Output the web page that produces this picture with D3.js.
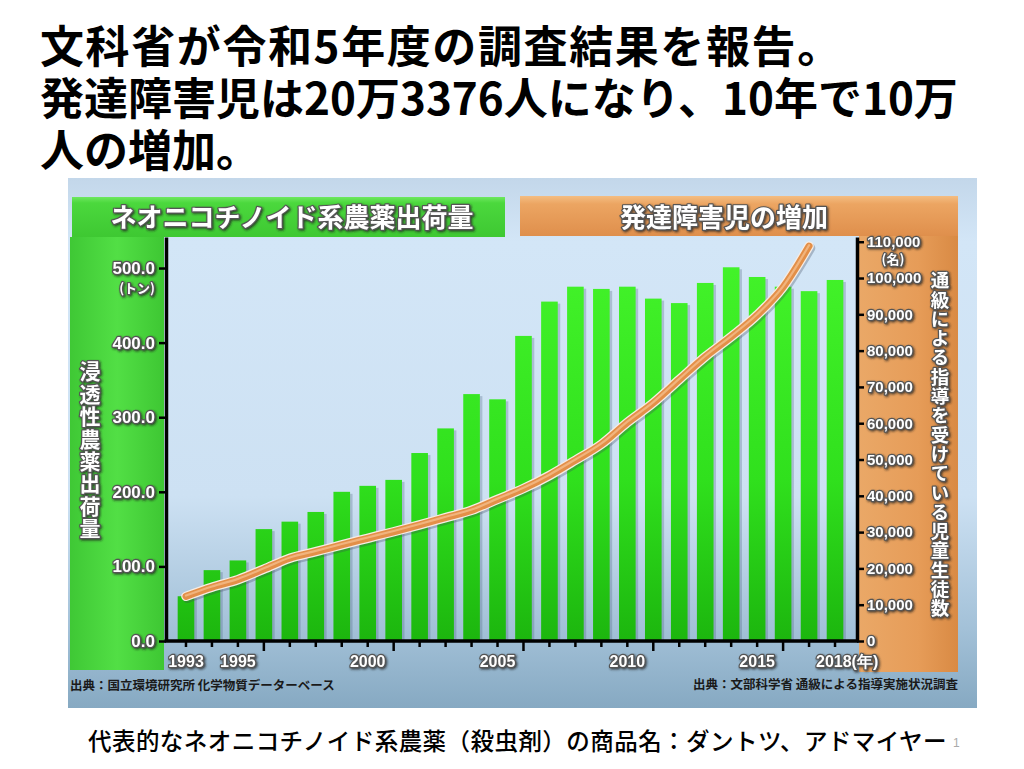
<!DOCTYPE html>
<html>
<head>
<meta charset="utf-8">
<script src="https://cdn.jsdelivr.net/npm/d3@7"></script>
<style>
  body { margin: 0; background: #fff; }
  svg { display: block; }
</style>
</head>
<body>
<div id="chart"></div>
<script>
// neonicotinoid shipments (tons), 1993-2018
const years = [1993, 1994, 1995, 1996, 1997, 1998, 1999, 2000, 2001, 2002, 2003, 2004, 2005,
               2006, 2007, 2008, 2009, 2010, 2011, 2012, 2013, 2014, 2015, 2016, 2017, 2018];
const shipments = [60, 95, 108, 150, 160, 173, 200, 208, 216, 252, 285, 331, 324,
                   409, 455, 475, 472, 475, 459, 453, 480, 501, 488, 475, 469, 484];

// pupils in 通級 guidance, 1993-2017
const pupilYears = [1993, 1994, 1995, 1996, 1997, 1998, 1999, 2000, 2001, 2002, 2003, 2004, 2005,
                    2006, 2007, 2008, 2009, 2010, 2011, 2012, 2013, 2014, 2015, 2016, 2017];
const pupils = [12300, 14800, 16900, 19800, 22800, 24600, 26500, 28300, 30100, 32000, 34000, 36000, 39000,
                42000, 45600, 49800, 54200, 60200, 65600, 72000, 78300, 83800, 89800, 97500, 108800];

const leftTicks = [0, 100, 200, 300, 400, 500];
const rightTicks = [0, 10000, 20000, 30000, 40000, 50000, 60000, 70000, 80000, 90000, 100000, 110000];
const yearLabels = {1993: "1993", 1995: "1995", 2000: "2000", 2005: "2005", 2010: "2010", 2015: "2015", 2018: "2018(年)"};

const titleLines = ["文科省が令和5年度の調査結果を報告。", "発達障害児は20万3376人になり、10年で10万", "人の増加。"];
const caption = "代表的なネオニコチノイド系農薬（殺虫剤）の商品名：ダントツ、アドマイヤー";

const W = 1024, H = 769;
const plot = {left: 166, right: 857, top: 237, bottom: 641};
const jp = "'Noto Sans CJK JP', 'Noto Sans', sans-serif";
const num = "'Liberation Sans', Arial, sans-serif";

const svg = d3.select("#chart").append("svg")
  .attr("width", W).attr("height", H);

const defs = svg.append("defs");
function grad(id, stops, x2, y2, units, box) {
  const g = defs.append("linearGradient").attr("id", id)
    .attr("x1", box ? box[0] : 0).attr("y1", box ? box[1] : 0)
    .attr("x2", box ? box[2] : x2).attr("y2", box ? box[3] : y2);
  if (units) g.attr("gradientUnits", units);
  stops.forEach(s => g.append("stop").attr("offset", s[0]).attr("stop-color", s[1]));
}
grad("bg", [[0, "#c3d7ea"], [0.12, "#d3e6f7"], [0.6, "#cde1f3"], [0.85, "#a3c1d8"], [1, "#86a9c2"]], 0, 1);
grad("greenPanel", [[0, "#3fc835"], [0.5, "#52df45"], [1, "#3ec733"]], 1, 0);
grad("greenHead", [[0, "#6ee85f"], [0.15, "#4bd83d"], [1, "#3ec832"]], 0, 1);
grad("orangePanel", [[0, "#eaa867"], [0.6, "#e69c58"], [1, "#d98a44"]], 1, 0);
grad("orangeHead", [[0, "#f4bd82"], [0.2, "#eca562"], [1, "#df8f4c"]], 0, 1);
grad("bar", [[0, "#45f52b"], [0.6, "#30e01d"], [1, "#1cb60e"]], 0, 0, "userSpaceOnUse",
     [0, plot.top, 0, plot.bottom]);

const sh = defs.append("filter").attr("id", "shadow")
  .attr("x", "-10%").attr("y", "-10%").attr("width", "130%").attr("height", "140%");
sh.append("feDropShadow").attr("dx", 1.2).attr("dy", 1.2).attr("stdDeviation", 0.8)
  .attr("flood-color", "#222").attr("flood-opacity", 0.8);

// title
svg.append("g").selectAll("text").data(titleLines).join("text")
  .attr("x", 40).attr("y", (d, i) => 63 + i * 52)
  .attr("font-family", jp).attr("font-weight", 700).attr("font-size", 44)
  .attr("letter-spacing", (d, i) => i === 0 ? 1.6 : 0)
  .attr("fill", "#000").text(d => d);

// picture frame
svg.append("rect").attr("x", 68).attr("y", 178).attr("width", 909).attr("height", 530)
  .attr("fill", "url(#bg)");

// green header + side panel
svg.append("rect").attr("x", 72).attr("y", 197).attr("width", 433).attr("height", 40)
  .attr("fill", "url(#greenHead)");
svg.append("rect").attr("x", 70).attr("y", 237).attr("width", 94).attr("height", 433)
  .attr("fill", "url(#greenPanel)");
// orange header + side panel
svg.append("rect").attr("x", 520).attr("y", 196).attr("width", 438).attr("height", 40)
  .attr("fill", "url(#orangeHead)");
svg.append("rect").attr("x", 859).attr("y", 236).attr("width", 99).attr("height", 436)
  .attr("fill", "url(#orangePanel)");

function glow(sel) {
  return sel.attr("fill", "#fff").attr("stroke", "#555").attr("stroke-width", 2.4)
    .attr("paint-order", "stroke").attr("stroke-linejoin", "round")
    .attr("filter", "url(#shadow)");
}

glow(svg.append("text").attr("x", 292).attr("y", 227).attr("text-anchor", "middle")
  .attr("font-family", jp).attr("font-weight", 700).attr("font-size", 26)
  .text("ネオニコチノイド系農薬出荷量"));
glow(svg.append("text").attr("x", 724).attr("y", 227).attr("text-anchor", "middle")
  .attr("font-family", jp).attr("font-weight", 700).attr("font-size", 26)
  .text("発達障害児の増加"));

// scales
const x = d3.scaleBand().domain(years).range([plot.left + 7, plot.right - 9]).paddingInner(0.36).paddingOuter(0.18);
const yL = d3.scaleLinear().domain([0, 541.6]).range([plot.bottom, plot.top]);
const yR = d3.scaleLinear().domain([0, 111300]).range([plot.bottom, plot.top]);

// bars
const bars = svg.append("g");
bars.selectAll("rect.sh").data(years).join("rect").attr("class", "sh")
  .attr("x", d => x(d) + 2.5).attr("y", (d, i) => yL(shipments[i]) + 2)
  .attr("width", x.bandwidth()).attr("height", (d, i) => plot.bottom - yL(shipments[i]) - 2)
  .attr("fill", "rgba(70,90,120,0.28)");
bars.selectAll("rect.b").data(years).join("rect").attr("class", "b")
  .attr("x", d => x(d)).attr("y", (d, i) => yL(shipments[i]))
  .attr("width", x.bandwidth()).attr("height", (d, i) => plot.bottom - yL(shipments[i]))
  .attr("fill", "url(#bar)");

// pupils line
const line = d3.line()
  .x((d, i) => x(pupilYears[i]) + x.bandwidth() / 2)
  .y(d => yR(d))
  .curve(d3.curveMonotoneX);
const lg = svg.append("g").attr("fill", "none").attr("stroke-linecap", "round").attr("stroke-linejoin", "round");
lg.append("path").attr("d", line(pupils)).attr("stroke", "rgba(60,70,90,0.3)").attr("stroke-width", 9.5)
  .attr("transform", "translate(1.5,2)");
lg.append("path").attr("d", line(pupils)).attr("stroke", "#f6ece4").attr("stroke-width", 9.5);
lg.append("path").attr("d", line(pupils)).attr("stroke", "#e38f48").attr("stroke-width", 7);
lg.append("path").attr("d", line(pupils)).attr("stroke", "#f1b47d").attr("stroke-width", 2.2)
  .attr("transform", "translate(0,-0.8)");

// left axis
const gL = svg.append("g").attr("transform", `translate(${plot.left},0)`)
  .call(d3.axisLeft(yL).tickValues(leftTicks).tickFormat(d3.format(".1f")).tickSize(7).tickSizeOuter(0).tickPadding(4));
gL.select(".domain").attr("stroke", "#000").attr("stroke-width", 3.5);
gL.selectAll(".tick line").attr("stroke", "#000").attr("stroke-width", 2.5);
glow(gL.selectAll(".tick text")).attr("font-family", num).attr("font-weight", 700).attr("font-size", 17);
glow(svg.append("text").attr("x", plot.left - 11).attr("y", yL(500) + 25).attr("text-anchor", "end")
  .attr("font-family", jp).attr("font-weight", 700).attr("font-size", 13).text("(トン)"));

// right axis
const gR = svg.append("g").attr("transform", `translate(${plot.right},0)`)
  .call(d3.axisRight(yR).tickValues(rightTicks).tickFormat(d3.format(",")).tickSize(7).tickSizeOuter(0).tickPadding(3));
gR.select(".domain").attr("stroke", "#000").attr("stroke-width", 3.5);
gR.selectAll(".tick line").attr("stroke", "#000").attr("stroke-width", 2.5);
glow(gR.selectAll(".tick text")).attr("font-family", num).attr("font-weight", 700).attr("font-size", 15);
glow(svg.append("text").attr("x", plot.right + 36).attr("y", yR(110000) + 22).attr("text-anchor", "middle")
  .attr("font-family", jp).attr("font-weight", 700).attr("font-size", 13).text("(名)"));

// bottom axis
const gX = svg.append("g").attr("transform", `translate(0,${plot.bottom})`)
  .call(d3.axisBottom(x).tickValues(years).tickFormat(d => yearLabels[d] || "").tickSize(6).tickPadding(9));
gX.select(".domain").remove();
gX.selectAll(".tick line").attr("stroke", "#000").attr("stroke-width", 2.5)
  .attr("y2", d => (d - 1991) % 5 === 0 ? 10 : 6);
glow(gX.selectAll(".tick text")).attr("font-family", num).attr("font-weight", 700).attr("font-size", 16);
gX.selectAll(".tick text").filter(d => d === 2018).attr("text-anchor", "start").attr("x", -19);
svg.append("line").attr("x1", plot.left - 1.5).attr("x2", plot.right + 1.5)
  .attr("y1", plot.bottom).attr("y2", plot.bottom).attr("stroke", "#000").attr("stroke-width", 3.5);

// vertical axis titles
glow(svg.append("text").attr("x", 90).attr("y", 361)
  .style("writing-mode", "vertical-rl").style("text-orientation", "upright")
  .attr("letter-spacing", 1.4)
  .attr("font-family", jp).attr("font-weight", 700).attr("font-size", 21).text("浸透性農薬出荷量"));
glow(svg.append("text").attr("x", 940).attr("y", 271)
  .style("writing-mode", "vertical-rl").style("text-orientation", "upright")
  .attr("letter-spacing", 0.8)
  .attr("font-family", jp).attr("font-weight", 700).attr("font-size", 18.5).text("通級による指導を受けている児童生徒数"));

// sources
svg.append("text").attr("x", 70).attr("y", 690)
  .attr("font-family", jp).attr("font-weight", 700).attr("font-size", 12.5).attr("fill", "#1a1a1a")
  .text("出典：国立環境研究所 化学物質データーベース");
svg.append("text").attr("x", 958).attr("y", 689).attr("text-anchor", "end")
  .attr("font-family", jp).attr("font-weight", 700).attr("font-size", 12.5).attr("fill", "#1a1a1a")
  .text("出典：文部科学省 通級による指導実施状況調査");

// caption + page number
svg.append("text").attr("x", 88).attr("y", 750)
  .attr("font-family", jp).attr("font-weight", 500).attr("font-size", 23.5)
  .attr("letter-spacing", 0.45).attr("fill", "#000")
  .text(caption);
svg.append("text").attr("x", 953).attr("y", 747)
  .attr("font-family", num).attr("font-size", 12).attr("fill", "#aaa").text("1");
</script>
</body>
</html>
